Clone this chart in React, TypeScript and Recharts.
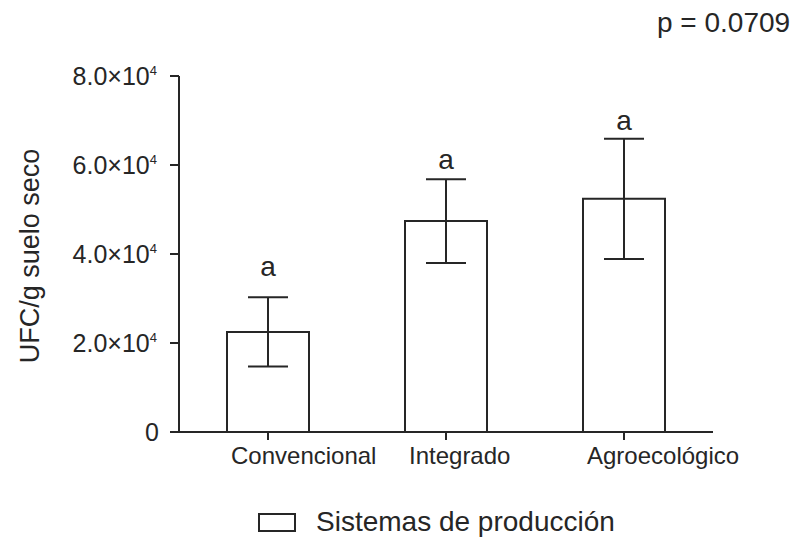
import React from 'react';
import { BarChart, Bar, XAxis, YAxis, ErrorBar, LabelList, Legend, Label } from 'recharts';

const categories = ['Convencional', 'Integrado', 'Agroecológico'];
const means = [22500, 47400, 52400];
const errors = [7800, 9400, 13500];
const letters = ['a', 'a', 'a'];
const yTicks = [0, 20000, 40000, 60000, 80000];
const seriesName = 'Sistemas de producción';
const pValue = 'p = 0.0709';

// separación (px) entre la letra y el extremo de la barra de error
const letterGaps = [21, 10, 9];

const FONT = '"Liberation Sans", Arial, sans-serif';
const INK = '#262626';

const data = categories.map((name, i) => ({
  name,
  ufc: means[i],
  err: errors[i],
  letter: letters[i],
}));

// etiquetas del eje Y en notación científica
const YTick = (props: any) => {
  const { x, y, payload } = props;
  const v = payload.value as number;
  if (v === 0) {
    return (
      <text x={x + 2} y={y} dy="0.36em" textAnchor="end" fontSize={25} fill={INK} fontFamily={FONT}>
        0
      </text>
    );
  }
  const mant = (v / 10000).toFixed(1);
  return (
    <text x={x} y={y} dy="0.36em" textAnchor="end" fontSize={25} fill={INK} fontFamily={FONT}>
      {mant}×10
      <tspan fontSize={13} dy={-10}>4</tspan>
    </text>
  );
};

const XTick = (props: any) => {
  const { x, y, payload } = props;
  return (
    <text x={x - 37} y={y + 22} textAnchor="start" fontSize={24} fill={INK} fontFamily={FONT}>
      {payload.value}
    </text>
  );
};

// letra de significancia sobre la barra de error
const LetterLabel = (props: any) => {
  const { x, y, width, height, index } = props;
  const i = index ?? 0;
  const pxPerUnit = height / means[i];
  const top = y - errors[i] * pxPerUnit;
  return (
    <text x={x + width / 2} y={top - letterGaps[i]} textAnchor="middle" fontSize={28} fill={INK} fontFamily={FONT}>
      {letters[i]}
    </text>
  );
};

const LegendBox = () => (
  <div style={{ position: 'relative', width: 800, height: 40, fontFamily: FONT }}>
    <div
      style={{
        position: 'absolute',
        left: 258,
        top: 12,
        width: 34,
        height: 15,
        border: `2px solid ${INK}`,
        background: '#fff',
      }}
    />
    <div style={{ position: 'absolute', left: 316, top: 1, lineHeight: '40px', fontSize: 28, color: INK }}>
      {seriesName}
    </div>
  </div>
);

export default function App() {
  return (
    <div style={{ position: 'absolute', left: 0, top: 0, width: 800, height: 540, background: '#fff' }}>
      <div
        style={{
          position: 'absolute',
          left: 657,
          top: 6,
          fontSize: 28,
          fontFamily: FONT,
          color: INK,
          whiteSpace: 'nowrap',
          lineHeight: '34px',
        }}
      >
        {pValue}
      </div>
      <BarChart
        width={800}
        height={540}
        data={data}
        margin={{ top: 76, right: 87, left: 0, bottom: 18 }}
        barSize={82}
      >
        <YAxis
          domain={[0, 80000]}
          ticks={yTicks}
          width={179}
          tickSize={9}
          tickMargin={13}
          tick={<YTick />}
          axisLine={{ stroke: INK, strokeWidth: 2 }}
          tickLine={{ stroke: INK, strokeWidth: 2 }}
        >
          <Label
            content={() => (
              <text
                transform="translate(30,256) rotate(-90)"
                textAnchor="middle"
                dominantBaseline="central"
                fontSize={27}
                fill={INK}
                fontFamily={FONT}
              >
                UFC/g suelo seco
              </text>
            )}
          />
        </YAxis>
        <XAxis
          dataKey="name"
          height={50}
          tickSize={8}
          tickMargin={2}
          tick={<XTick />}
          axisLine={{ stroke: INK, strokeWidth: 2 }}
          tickLine={{ stroke: INK, strokeWidth: 2 }}
        />
        <Legend
          height={40}
          content={<LegendBox />}
          wrapperStyle={{ left: 0, top: 501, bottom: 'auto', width: 800 }}
        />
        <Bar
          dataKey="ufc"
          name={seriesName}
          fill="#ffffff"
          stroke={INK}
          strokeWidth={2}
          isAnimationActive={false}
        >
          <ErrorBar dataKey="err" width={20} stroke={INK} strokeWidth={2} isAnimationActive={false} />
          <LabelList dataKey="letter" content={<LetterLabel />} />
        </Bar>
      </BarChart>
    </div>
  );
}
